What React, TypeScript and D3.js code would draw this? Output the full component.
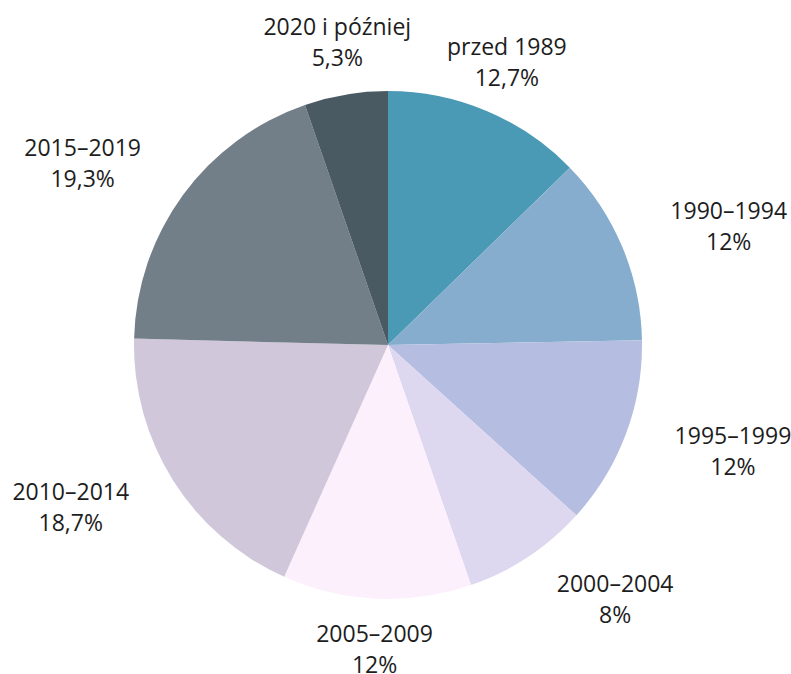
import React from "react";
import * as d3 from "d3";

const categories = ["przed 1989", "1990–1994", "1995–1999", "2000–2004", "2005–2009", "2010–2014", "2015–2019", "2020 i później"];
const values = [12.7, 12, 12, 8, 12, 18.7, 19.3, 5.3];
const valueLabels = ["12,7%", "12%", "12%", "8%", "12%", "18,7%", "19,3%", "5,3%"];
const colors = ["#4b9ab5", "#86adcd", "#b5bde1", "#ddd7ef", "#fdf0fd", "#d0c8da", "#727e88", "#4a5a62"];

const W = 791, H = 674;
const cx = 388, cy = 345, R = 254, LR = 306;
const FONT = 23, LINE = 31;
const FAMILY = "'Open Sans', sans-serif";

let ctx: CanvasRenderingContext2D | null = null;
function measure(t: string) {
  if (!ctx) ctx = document.createElement("canvas").getContext("2d");
  if (!ctx) return t.length * FONT * 0.55;
  ctx.font = `${FONT}px ${FAMILY}`;
  return ctx.measureText(t).width;
}

export default function App() {
  const data = categories.map((c, i) => ({ c, v: values[i], l: valueLabels[i], col: colors[i] }));
  const pie = d3.pie<any>().value((d) => d.v).sort(null).startAngle(0).endAngle(2 * Math.PI);
  const arcs = pie(data);
  const arc = d3.arc<any>().innerRadius(0).outerRadius(R);
  return (
    <svg width={W} height={H} style={{ position: "absolute", left: 0, top: 0, background: "#fff" }}
      fontFamily={FAMILY}>
      <g transform={`translate(${cx},${cy})`}>
        {arcs.map((a, i) => (
          <path key={i} d={arc(a) as string} fill={a.data.col} />
        ))}
        {arcs.map((a, i) => {
          const m = (a.startAngle + a.endAngle) / 2;
          const s = Math.sin(m), c = Math.cos(m);
          const ax = LR * s, y = -LR * c;
          const w = Math.max(measure(a.data.c), measure(a.data.l));
          const x = Math.abs(s) < 0.5 ? ax : s > 0 ? ax + w / 2 : ax - w / 2;
          return (
            <text key={i} x={x} y={y} textAnchor="middle" fontSize={FONT} fill="#1d1d1d">
              <tspan x={x} dy={-LINE / 2 + 7}>{a.data.c}</tspan>
              <tspan x={x} dy={LINE}>{a.data.l}</tspan>
            </text>
          );
        })}
      </g>
    </svg>
  );
}
